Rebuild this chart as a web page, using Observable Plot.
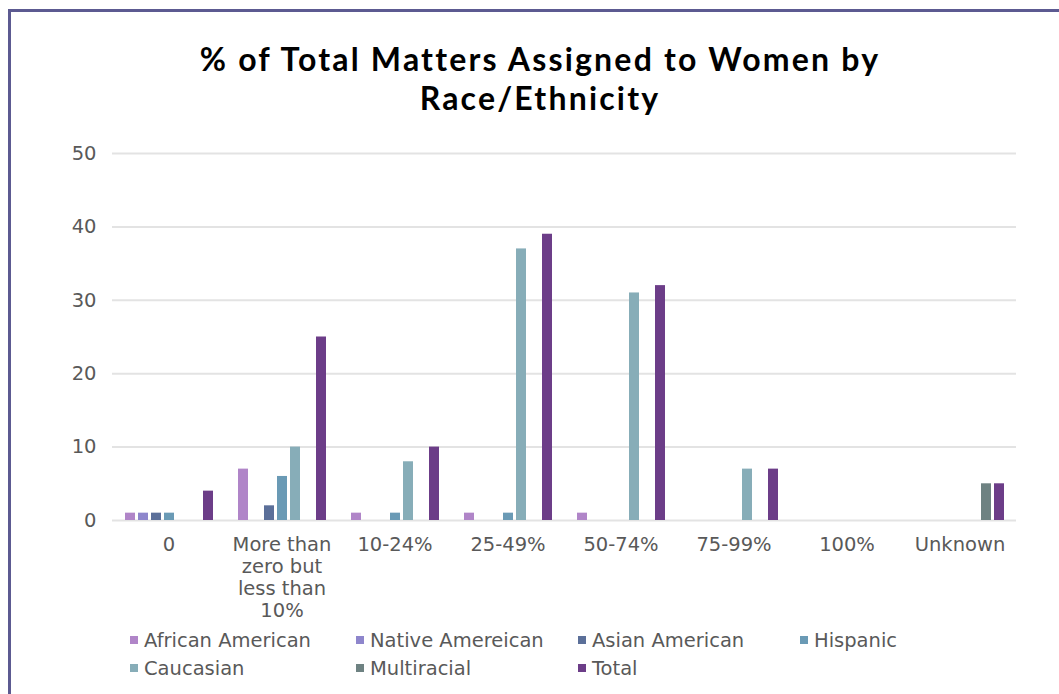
<!DOCTYPE html>
<html>
<head>
<meta charset="utf-8">
<script src="https://cdn.jsdelivr.net/npm/d3@7"></script>
<script src="https://cdn.jsdelivr.net/npm/@observablehq/plot@0.6"></script>
<style>
  html, body { margin: 0; padding: 0; background: #fff; overflow: hidden; width: 1059px; height: 694px; }
  #frame { position: absolute; left: 8px; top: 9px; width: 1100px; height: 720px; border: 3px solid #5c5a91; box-sizing: border-box; }
  .title { position: absolute; left: 40px; width: 1000px; text-align: center; font-family: Lato, sans-serif; font-weight: 700; font-size: 32px; letter-spacing: 2.2px; line-height: 38.5px; height: 38.5px; color: #000; white-space: nowrap; }
  #chart { position: absolute; left: 0; top: 130px; }
  #legend { position: absolute; left: 130px; top: 626px; display: grid; grid-template-columns: 226px 222px 222px 222px; grid-auto-rows: 28px; font-family: "DejaVu Sans", sans-serif; font-size: 19.5px; color: #595959; }
  .item { display: flex; align-items: center; white-space: nowrap; }
  .sw { width: 8px; height: 8px; margin-right: 6px; flex: none; }
</style>
</head>
<body>
<div id="frame"></div>
<div class="title" style="top: 40px;">% of Total Matters Assigned to Women by</div>
<div class="title" style="top: 78.5px;">Race/Ethnicity</div>
<div id="chart"></div>
<div id="legend"></div>
<script>
const categories = ["0", "More than zero but less than 10%", "10-24%", "25-49%", "50-74%", "75-99%", "100%", "Unknown"];
const categoryLabels = ["0", "More than\nzero but\nless than\n10%", "10-24%", "25-49%", "50-74%", "75-99%", "100%", "Unknown"];
const seriesNames = ["African American", "Native Amereican", "Asian American", "Hispanic", "Caucasian", "Multiracial", "Total"];
const seriesColors = ["#b085c8", "#8e86cc", "#5b6f99", "#6a9ab5", "#87adb8", "#6e8282", "#6c3d88"];
const africanAmerican = [1, 7, 1, 1, 1, 0, 0, 0];
const nativeAmerican  = [1, 0, 0, 0, 0, 0, 0, 0];
const asianAmerican   = [1, 2, 0, 0, 0, 0, 0, 0];
const hispanic        = [1, 6, 1, 1, 0, 0, 0, 0];
const caucasian       = [0, 10, 8, 37, 31, 7, 0, 0];
const multiracial     = [0, 0, 0, 0, 0, 0, 0, 5];
const total           = [4, 25, 10, 39, 32, 7, 0, 5];
const yTicks = [0, 10, 20, 30, 40, 50];

const seriesValues = [africanAmerican, nativeAmerican, asianAmerican, hispanic, caucasian, multiracial, total];
const data = [];
seriesNames.forEach((s, j) => {
  categories.forEach((c, i) => {
    data.push({cat: c, series: s, value: seriesValues[j][i]});
  });
});

const fxLabel = c => categoryLabels[categories.indexOf(c)];
const hasAxisMarks = typeof Plot.axisFx === "function";

const marks = [
  Plot.ruleY(yTicks, {stroke: "#e3e3e3", strokeWidth: 2}),
  Plot.barY(data, {fx: "cat", x: "series", y: "value", fill: "series"})
];
if (hasAxisMarks) {
  marks.push(Plot.axisFx({anchor: "bottom", tickSize: 0, tickPadding: 15, lineHeight: 1.13, tickFormat: fxLabel, label: null}));
}

const chart = Plot.plot({
  width: 1059,
  height: 500,
  marginLeft: 110,
  marginRight: 42,
  marginTop: 23,
  marginBottom: 110,
  style: {fontFamily: "DejaVu Sans, sans-serif", fontSize: "19.5px", color: "#595959", background: "transparent"},
  fx: hasAxisMarks
    ? {domain: categories, paddingInner: 0, paddingOuter: 0, label: null, axis: null}
    : {domain: categories, paddingInner: 0, paddingOuter: 0, label: null, axis: "bottom", tickSize: 0, tickPadding: 15, tickFormat: fxLabel},
  x: {domain: seriesNames, paddingInner: 0.25, paddingOuter: 0.89, axis: null},
  y: {domain: [0, 50], ticks: yTicks, label: null, axis: "left", tickSize: 0, tickPadding: 16},
  color: {domain: seriesNames, range: seriesColors},
  marks
});
document.getElementById("chart").appendChild(chart);

const legend = document.getElementById("legend");
seriesNames.forEach((s, j) => {
  const it = document.createElement("div");
  it.className = "item";
  const sw = document.createElement("span");
  sw.className = "sw";
  sw.style.background = seriesColors[j];
  it.appendChild(sw);
  it.appendChild(document.createTextNode(s));
  legend.appendChild(it);
});
</script>
</body>
</html>
